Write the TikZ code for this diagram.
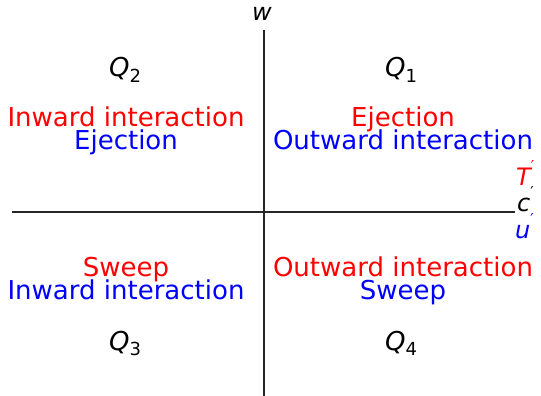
\documentclass[tikz,border=0pt]{standalone}
\usepackage{fontspec}
\setmainfont{DejaVu Sans}
\begin{document}
\begin{tikzpicture}[x=1pt,y=-1pt,
  lbl/.style={anchor=base,inner sep=0pt,font=\fontsize{26}{30}\selectfont},
  axlbl/.style={anchor=base west,inner sep=0pt,font=\fontsize{24}{28}\selectfont\itshape},
  axis/.style={line width=1.2pt,black!85}]
\definecolor{pr}{RGB}{255,0,0}
\definecolor{pb}{RGB}{0,0,255}
\useasboundingbox (0,0) rectangle (541,396);
\newcommand{\Qsub}[1]{{\itshape Q}\raisebox{-0.22em}{\fontsize{18}{18}\selectfont #1}}
\newcommand{\pmark}{\raisebox{0.55em}{\fontsize{15}{15}\selectfont\upshape ′}}
% axes
\coordinate (hl) at (12,212);
\coordinate (hr) at (515,212);
\coordinate (vt) at (264,30);
\coordinate (vb) at (264,396);
\draw[axis] (hl) -- (hr);
\draw[axis] (vt) -- (vb);
% axis labels
\node[lbl,font=\fontsize{24}{28}\selectfont\itshape] (w) at (262,21) {w};
\node[axlbl,text=pr] (T) at (516,185) {T\pmark};
\node[axlbl] (c) at (517,211) {c\pmark};
\node[axlbl,text=pb] (u) at (515,238) {u\pmark};
% quadrant labels
\node[lbl] (q2) at (125,77) {\Qsub{2}};
\node[lbl] (q1) at (401,77) {\Qsub{1}};
\node[lbl] (q3) at (125,350) {\Qsub{3}};
\node[lbl] (q4) at (401,350) {\Qsub{4}};
% Q2 texts
\node[lbl,text=pr] (a1) at (126,126) {Inward interaction};
\node[lbl,text=pb] (a2) at (126,149) {Ejection};
% Q1 texts
\node[lbl,text=pr] (b1) at (403,126) {Ejection};
\node[lbl,text=pb] (b2) at (403,149) {Outward interaction};
% Q3 texts
\node[lbl,text=pr] (c1) at (126,276) {Sweep};
\node[lbl,text=pb] (c2) at (126,299) {Inward interaction};
% Q4 texts
\node[lbl,text=pr] (d1) at (403,276) {Outward interaction};
\node[lbl,text=pb] (d2) at (403,299) {Sweep};
\end{tikzpicture}
\end{document}
